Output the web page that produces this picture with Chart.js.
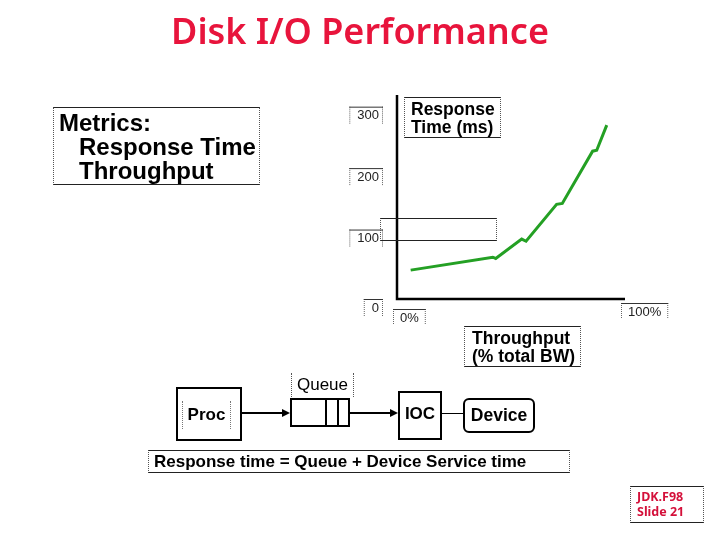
<!DOCTYPE html>
<html>
<head>
<meta charset="utf-8">
<script src="https://cdn.jsdelivr.net/npm/chart.js@4.4.0/dist/chart.umd.min.js"></script>
<style>
  body { margin: 0; background: #fff; }
  #slide { position: relative; width: 720px; height: 540px; overflow: hidden; background: #fff;
           font-family: "Liberation Sans", Arial, sans-serif; color: #000; }
  #chart { position: absolute; left: 0; top: 0; }
  .abs { position: absolute; box-sizing: border-box; }
  .tbox { border-top: 1px solid #222; border-bottom: 1px solid #222;
          border-left: 1px dotted #555; border-right: 1px dotted #555; }
  .bold { font-weight: bold; }
  .title { left: 0; width: 720px; top: 6px; text-align: center; color: #e8143c;
           font-family: "Noto Sans", sans-serif; font-size: 36px; font-weight: 600; letter-spacing: 0px; }
  .hline { background: #000; height: 2px; }
  .vline { background: #000; width: 2px; }
  .head { width: 0; height: 0; border-top: 4px solid transparent; border-bottom: 4px solid transparent;
          border-left: 8px solid #000; }
</style>
</head>
<body>
<div id="slide">
  <canvas id="chart" width="720" height="540"></canvas>

  <div class="abs title">Disk I/O Performance</div>

  <!-- metrics text box -->
  <div class="abs tbox bold" style="left:53px;top:107px;width:207px;height:78px;font-size:24px;line-height:24px;padding:3px 0 0 5px;">
    Metrics:<br><span style="padding-left:20px">Response Time</span><br><span style="padding-left:20px">Throughput</span>
  </div>

  <!-- axis titles -->
  <div class="abs tbox bold" style="left:404px;top:97px;width:97px;height:41px;font-size:17.5px;line-height:18px;padding:2px 0 0 6px;">Response<br>Time (ms)</div>
  <div class="abs tbox bold" style="left:464px;top:326px;width:117px;height:41px;font-size:17.5px;line-height:18px;padding:2px 0 0 7px;">Throughput<br>(% total BW)</div>

  <!-- empty frame inside plot -->
  <div class="abs tbox" style="left:380px;top:218px;width:117px;height:23px;"></div>

  <!-- queue diagram -->
  <div class="abs" style="left:291px;top:373px;width:63px;height:24px;border-left:1px dotted #555;border-right:1px dotted #555;font-size:17px;text-align:center;line-height:24px;">Queue</div>
  <div class="abs" style="left:176px;top:387px;width:66px;height:54px;border:2px solid #000;"></div>
  <div class="abs bold" style="left:182px;top:401px;width:49px;height:28px;border-left:1px dotted #777;border-right:1px dotted #777;font-size:17px;line-height:28px;text-align:center;">Proc</div>
  <div class="abs hline" style="left:242px;top:412px;width:42px;"></div>
  <div class="abs head" style="left:282px;top:409px;"></div>

  <div class="abs" style="left:290px;top:398px;width:60px;height:29px;border:2px solid #000;"></div>
  <div class="abs vline" style="left:325px;top:398px;height:29px;"></div>
  <div class="abs vline" style="left:337px;top:398px;height:29px;"></div>
  <div class="abs hline" style="left:350px;top:412px;width:42px;"></div>
  <div class="abs head" style="left:390px;top:409px;"></div>

  <div class="abs" style="left:398px;top:391px;width:44px;height:49px;border:2px solid #000;"></div>
  <div class="abs bold" style="left:400px;top:400px;width:40px;height:28px;font-size:17px;line-height:28px;text-align:center;">IOC</div>
  <div class="abs" style="left:442px;top:413px;width:21px;height:0;border-top:1.5px solid #000;"></div>
  <div class="abs bold" style="left:463px;top:398px;width:72px;height:35px;border:2px solid #000;border-radius:6px;font-size:17.5px;line-height:31px;text-align:center;">Device</div>

  <div class="abs tbox bold" style="left:148px;top:450px;width:422px;height:23px;font-size:17px;line-height:21px;padding-left:5px;">Response time = Queue + Device Service time</div>

  <div class="abs tbox bold" style="left:630px;top:486px;width:74px;height:37px;color:#d4103a;font-family:'Noto Sans',sans-serif;font-size:12.5px;line-height:15px;padding:2px 0 0 6px;">JDK.F98<br>Slide 21</div>
</div>

<script>
// response time vs. throughput curve
const throughputPct = [6, 42, 43.3, 54.7, 56.6, 70, 72.5, 85.8, 87.6, 92];
const responseMs = [47, 68, 66, 97.5, 94, 154, 155.6, 240.6, 242, 283];

const yTicks = [0, 100, 200, 300];
const xTicks = [0, 100];
const xTickLabels = ['0%', '100%'];

// axes + boxed tick labels drawn the slide way
const slideAxes = {
    id: 'slideAxes',
    afterDraw(chart) {
        const ctx = chart.ctx;
        const area = chart.chartArea;
        const xs = chart.scales.x;
        const ys = chart.scales.y;
        ctx.save();
        ctx.strokeStyle = '#000';
        ctx.lineWidth = 2.5;
        ctx.beginPath();
        ctx.moveTo(area.left, area.top);
        ctx.lineTo(area.left, area.bottom);
        ctx.lineTo(area.right, area.bottom);
        ctx.stroke();

        ctx.font = '13px "Liberation Sans", Arial, sans-serif';
        ctx.fillStyle = '#222';
        ctx.textBaseline = 'middle';

        function box(x1, y1, x2, y2) {
            ctx.lineWidth = 1;
            ctx.strokeStyle = '#666';
            ctx.setLineDash([1, 1]);
            ctx.beginPath();
            ctx.moveTo(x1 + 0.5, y1); ctx.lineTo(x1 + 0.5, y2);
            ctx.moveTo(x2 - 0.5, y1); ctx.lineTo(x2 - 0.5, y2);
            ctx.stroke();
            ctx.setLineDash([]);
            ctx.strokeStyle = '#333';
            ctx.beginPath();
            ctx.moveTo(x1, y1 + 0.5); ctx.lineTo(x2, y1 + 0.5);
            ctx.stroke();
        }

        yTicks.forEach(function (v) {
            let y = ys.getPixelForValue(v);
            if (v === 0) y += 8;
            const label = String(v);
            const w = ctx.measureText(label).width;
            const right = area.left - 18;
            box(right - w - 8, y - 8, right + 4, y + 9);
            ctx.textAlign = 'right';
            ctx.fillText(label, right, y + 1);
        });

        xTicks.forEach(function (v, i) {
            const x = xs.getPixelForValue(v);
            const label = xTickLabels[i];
            const w = ctx.measureText(label).width;
            const y = area.bottom + (i === 0 ? 18 : 12);
            box(x - 4, y - 8, x + w + 10, y + 8);
            ctx.textAlign = 'left';
            ctx.fillText(label, x + 3, y + 1);
        });
        ctx.restore();
    }
};

const perfCtx = document.getElementById('chart').getContext('2d');
const perfChart = new Chart(perfCtx, {
    type: 'line',
    data: {
        datasets: [{
            label: 'Response Time (ms)',
            data: throughputPct.map(function (t, i) { return { x: t, y: responseMs[i] }; }),
            borderColor: 'rgb(36, 160, 36)',
            borderWidth: 3,
            pointRadius: 0,
            tension: 0,
            fill: false
        }]
    },
    options: {
        responsive: false,
        animation: false,
        devicePixelRatio: 1,
        layout: {
            padding: { left: 397, right: 95, top: 95, bottom: 241 }
        },
        plugins: {
            legend: { display: false },
            tooltip: { enabled: false },
            title: { display: false }
        },
        scales: {
            x: { type: 'linear', min: 0, max: 100, display: false },
            y: { type: 'linear', min: 0, max: 332, display: false }
        }
    },
    plugins: [slideAxes]
});
</script>
</body>
</html>
